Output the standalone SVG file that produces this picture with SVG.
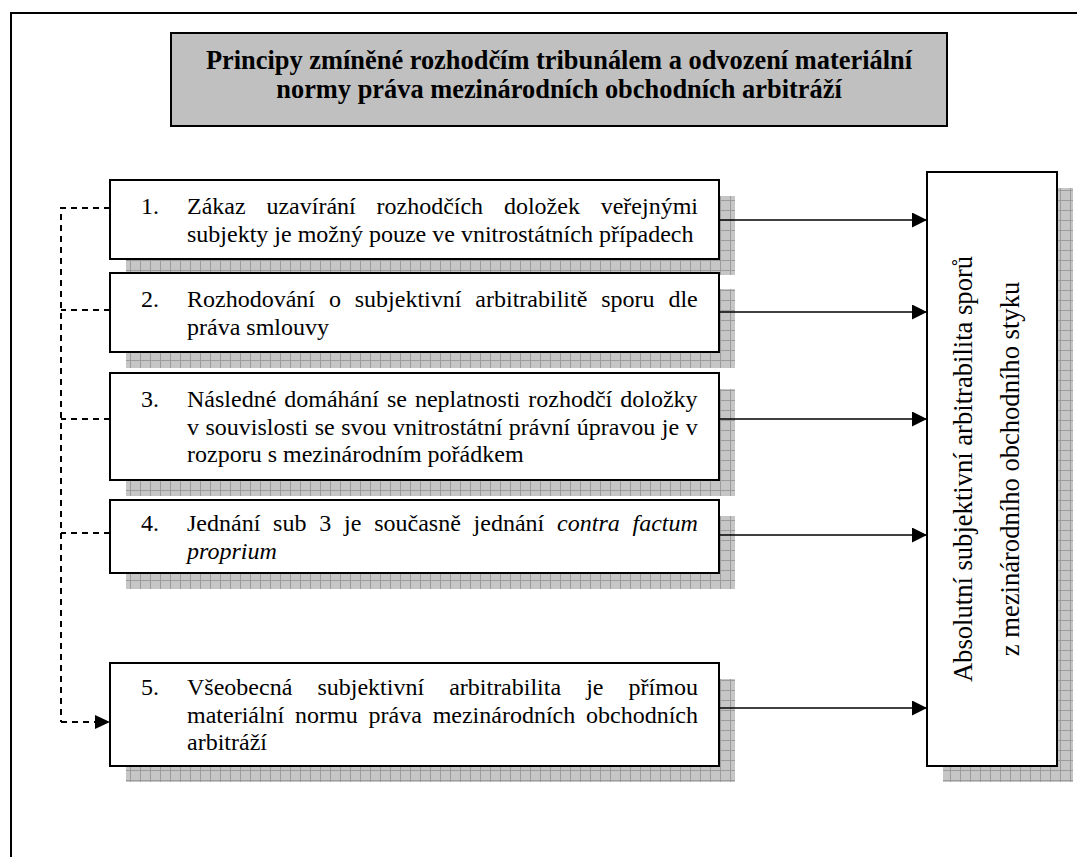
<svg xmlns="http://www.w3.org/2000/svg" width="1077" height="857" viewBox="0 0 1077 857" font-family="'Liberation Serif', 'Times New Roman', serif">
<defs>
<style>
.box{fill:#fff;stroke:#000;stroke-width:2}
.sh{fill:url(#grid);stroke:none}
.arr{stroke:#000;stroke-width:1.6;fill:none;marker-end:url(#ah)}
.dash{stroke:#000;stroke-width:2;fill:none;stroke-dasharray:6 5}
</style>
<pattern id="grid" width="10" height="10" patternUnits="userSpaceOnUse">
<rect width="10" height="10" fill="#c6c6c6"/>
<path d="M0,0.5H10M0.5,0V10" stroke="#9c9c9c" stroke-width="1"/>
</pattern>
<marker id="ah" markerWidth="15" markerHeight="15" refX="15" refY="7.5" orient="auto" markerUnits="userSpaceOnUse">
<path d="M0,0L15,7.5L0,15Z" fill="#000"/>
</marker>
</defs>

<path d="M11,857V13H1077" fill="none" stroke="#000" stroke-width="2"/>

<g id="title" font-size="26.4" font-weight="bold" text-anchor="middle">
<rect x="171" y="33" width="776" height="93" fill="#c0c0c0" stroke="#000" stroke-width="2"/>
<text x="559" y="69">Principy zmíněné rozhodčím tribunálem a odvození materiální</text>
<text x="559" y="98">normy práva mezinárodních obchodních arbitráží</text>
</g>

<g id="node1" font-size="24">
<rect class="sh" x="126" y="196" width="609" height="79"/>
<rect class="box" x="110" y="180" width="609" height="79"/>
<text x="141" y="214">1.</text>
<text x="187" y="214" word-spacing="14.8">Zákaz uzavírání rozhodčích doložek veřejnými</text>
<text x="187" y="241.5">subjekty je možný pouze ve vnitrostátních případech</text>
</g>

<g id="node2" font-size="24">
<rect class="sh" x="126" y="289" width="609" height="79"/>
<rect class="box" x="110" y="273" width="609" height="79"/>
<text x="141" y="307">2.</text>
<text x="187" y="307" word-spacing="7.9">Rozhodování o subjektivní arbitrabilitě sporu dle</text>
<text x="187" y="334.5">práva smlouvy</text>
</g>

<g id="node3" font-size="24">
<rect class="sh" x="126" y="389" width="609" height="107"/>
<rect class="box" x="110" y="373" width="609" height="107"/>
<text x="141" y="407">3.</text>
<text x="187" y="407" word-spacing="2">Následné domáhání se neplatnosti rozhodčí doložky</text>
<text x="187" y="434.5" word-spacing="0.5">v souvislosti se svou vnitrostátní právní úpravou je v</text>
<text x="187" y="462">rozporu s mezinárodním pořádkem</text>
</g>

<g id="node4" font-size="24">
<rect class="sh" x="126" y="516" width="609" height="73"/>
<rect class="box" x="110" y="500" width="609" height="73"/>
<text x="141" y="531">4.</text>
<text x="187" y="531" word-spacing="6.8">Jednání sub 3 je současně jednání <tspan font-style="italic">contra factum</tspan></text>
<text x="187" y="558.5" font-style="italic">proprium</text>
</g>

<g id="node5" font-size="24">
<rect class="sh" x="126" y="679" width="609" height="103"/>
<rect class="box" x="110" y="663" width="609" height="103"/>
<text x="141" y="695">5.</text>
<text x="187" y="695" word-spacing="19.1">Všeobecná subjektivní arbitrabilita je přímou</text>
<text x="187" y="722.5" word-spacing="4.8">materiální normu práva mezinárodních obchodních</text>
<text x="187" y="750">arbitráží</text>
</g>

<g id="result" font-size="26.6" text-anchor="middle">
<rect class="sh" x="943" y="188" width="130" height="594"/>
<rect class="box" x="927" y="172" width="130" height="594"/>
<text transform="translate(972,469) rotate(-90)">Absolutní subjektivní arbitrabilita sporů</text>
<text transform="translate(1019,469) rotate(-90)">z mezinárodního obchodního styku</text>
</g>

<g id="connectors">
<path class="arr" d="M719,220H927"/>
<path class="arr" d="M719,312H927"/>
<path class="arr" d="M719,419H927"/>
<path class="arr" d="M719,535H927"/>
<path class="arr" d="M719,708H927"/>
<path class="dash" d="M110,208H61V722"/>
<path class="dash" d="M110,310H61"/>
<path class="dash" d="M110,419H61"/>
<path class="dash" d="M110,533H61"/>
<path class="dash" d="M61,722H96"/>
<path d="M95,715L110,722L95,729Z" fill="#000"/>
</g>
</svg>
